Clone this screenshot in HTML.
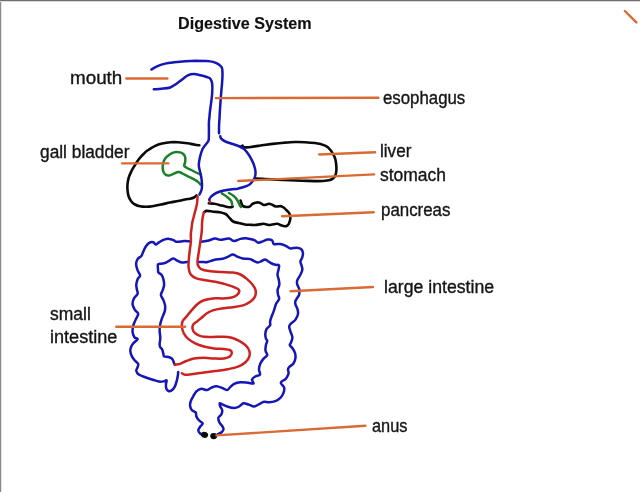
<!DOCTYPE html>
<html><head><meta charset="utf-8"><title>Digestive System</title>
<style>
html,body{margin:0;padding:0;background:#fff;}
body{width:640px;height:492px;position:relative;overflow:hidden;font-family:"Liberation Sans",sans-serif;color:#1a1a1a;}
#bt{position:absolute;left:0;top:0;width:640px;height:1px;background:#707070;}
#bt2{position:absolute;left:0;top:1px;width:640px;height:1px;background:#d8d8d8;}
#bl{position:absolute;left:0;top:0;width:1px;height:492px;background:#8a8a8a;}
#bl2{position:absolute;left:1px;top:0;width:1px;height:492px;background:#e4e4e4;}
svg{position:absolute;left:0;top:0;filter:blur(0.35px);}
.t{position:absolute;white-space:nowrap;font-size:17.5px;line-height:20px;transform-origin:0 0;color:#151515;-webkit-text-stroke:0.35px #151515;}
.b{font-weight:bold;font-size:16.5px;-webkit-text-stroke:0.15px #111;color:#111;}
</style></head><body>
<svg width="640" height="492" viewBox="0 0 640 492" fill="none" stroke-linecap="round" stroke-linejoin="round">
<path d="M178.2 372.1C178.1 372.6 178.1 373.9 177.9 375.3C177.7 376.7 177.4 378.4 176.9 380.3C176.4 382.2 175.7 384.9 174.8 386.6C173.9 388.3 172.7 389.7 171.6 390.4C170.5 391.1 169.4 391.3 168.5 391.0C167.6 390.7 166.7 389.6 166.3 388.5C165.9 387.4 165.9 385.5 166.0 384.1C166.1 382.7 166.9 380.8 166.6 380.3C166.3 379.8 165.4 381.1 164.1 381.3C162.8 381.5 160.9 381.9 159.0 381.6C157.1 381.3 155.0 380.4 152.7 379.7C150.4 379.0 147.5 378.0 145.2 377.2C142.9 376.4 140.4 375.7 138.9 374.6C137.4 373.6 136.5 372.1 136.3 370.9C136.1 369.6 137.3 368.3 137.6 367.1C137.9 365.9 138.6 364.9 138.2 363.9C137.8 362.8 136.1 362.1 135.1 360.8C134.1 359.6 132.7 358.1 131.9 356.4C131.1 354.7 130.4 352.4 130.3 350.7C130.2 349.0 130.9 347.3 131.5 346.0C132.1 344.7 132.8 344.0 133.8 342.9C134.8 341.8 137.5 340.1 137.6 339.1C137.7 338.2 135.2 338.4 134.4 337.2C133.6 336.0 132.8 334.1 132.6 332.2C132.4 330.3 132.7 328.0 133.2 325.9C133.7 323.8 134.9 321.6 135.7 319.6C136.5 317.6 138.3 315.5 138.2 313.9C138.1 312.3 136.0 311.8 135.1 310.2C134.2 308.6 132.8 306.4 132.6 304.5C132.4 302.6 133.0 300.6 133.8 298.8C134.6 297.0 137.1 295.3 137.6 293.8C138.1 292.3 137.2 291.5 137.0 290.0C136.8 288.5 136.2 286.7 136.3 284.9C136.4 283.1 137.0 280.8 137.6 279.2C138.2 277.6 140.1 277.0 140.1 275.5C140.1 274.0 138.3 272.3 137.6 270.4C136.9 268.5 136.1 266.0 136.1 264.1C136.1 262.2 136.7 260.5 137.6 259.1C138.5 257.7 140.4 257.2 141.4 255.9C142.4 254.6 142.6 253.1 143.3 251.5C144.0 249.9 144.8 248.0 145.8 246.5C146.9 245.0 148.3 243.4 149.6 242.7C150.8 242.0 152.2 242.0 153.3 242.3C154.4 242.6 155.0 244.6 155.9 244.6C156.8 244.6 157.6 243.1 159.0 242.3C160.4 241.5 162.4 240.2 164.1 239.6C165.8 239.0 167.5 238.8 169.1 238.9C170.7 239.0 172.2 239.7 173.5 240.2C174.8 240.7 174.9 241.7 176.7 241.8C178.5 242.0 181.9 241.2 184.2 241.1C186.5 241.0 188.5 241.3 190.5 241.4C192.5 241.5 194.2 241.7 196.0 241.8C197.8 241.9 199.4 242.0 201.3 241.8C203.2 241.6 205.3 241.3 207.6 240.8C209.9 240.3 213.0 238.8 215.1 238.6C217.2 238.4 217.9 239.8 220.2 239.8C222.5 239.8 226.7 238.4 229.0 238.6C231.3 238.8 232.1 241.0 234.0 241.1C235.9 241.2 238.4 239.4 240.3 238.9C242.2 238.4 243.8 238.3 245.4 238.3C247.0 238.3 248.5 238.6 250.0 238.9C251.5 239.2 253.0 239.6 254.4 240.2C255.8 240.8 256.8 242.5 258.2 242.7C259.6 242.9 261.0 241.9 262.6 241.4C264.2 240.9 266.0 239.8 267.6 239.6C269.2 239.4 270.9 239.5 272.0 240.2C273.1 240.9 272.5 243.4 273.9 244.0C275.3 244.6 278.3 243.7 280.2 244.0C282.1 244.3 283.6 244.9 285.3 245.6C287.0 246.3 288.4 248.1 290.3 248.4C292.2 248.8 294.8 247.6 296.6 247.7C298.4 247.8 299.9 248.2 301.0 249.0C302.1 249.8 302.7 251.4 302.9 252.8C303.1 254.2 302.7 255.7 302.3 257.2C301.9 258.7 300.5 260.1 300.4 261.6C300.3 263.1 301.4 264.6 301.7 266.0C302.0 267.4 302.5 268.3 302.3 269.8C302.1 271.3 301.2 273.0 300.4 274.8C299.5 276.6 297.7 278.9 297.2 280.5C296.7 282.1 296.9 282.9 297.2 284.3C297.5 285.7 298.8 287.5 299.1 288.7C299.5 289.9 299.3 290.4 299.3 291.5C299.3 292.6 299.6 293.5 299.0 295.0C298.4 296.5 296.1 299.1 295.5 300.7C294.9 302.3 295.2 303.1 295.5 304.5C295.8 305.9 297.0 307.3 297.4 308.9C297.8 310.5 298.3 312.1 298.0 313.9C297.7 315.7 296.6 318.0 295.5 319.6C294.4 321.2 292.2 322.2 291.1 323.4C290.1 324.5 289.3 325.1 289.2 326.5C289.1 327.9 290.0 329.8 290.5 331.6C291.0 333.4 292.3 335.4 292.4 337.2C292.5 339.0 291.5 341.0 291.1 342.3C290.7 343.6 289.6 344.2 289.8 345.2C290.0 346.2 291.5 346.9 292.4 348.1C293.2 349.3 294.4 351.0 294.9 352.6C295.4 354.2 295.7 355.8 295.5 357.6C295.3 359.4 294.7 361.7 293.6 363.3C292.6 364.9 290.1 365.9 289.2 367.0C288.3 368.1 288.1 368.6 288.0 369.6C287.9 370.7 288.9 371.8 288.6 373.3C288.3 374.8 287.2 377.0 286.1 378.4C285.0 379.8 282.6 380.7 281.7 381.5C280.8 382.3 280.6 382.3 281.0 383.4C281.4 384.4 283.8 386.2 284.2 387.8C284.6 389.4 284.1 391.2 283.5 392.9C282.9 394.6 281.8 396.5 280.4 397.9C279.0 399.3 277.3 400.4 275.4 401.1C273.5 401.8 271.0 402.2 269.1 402.3C267.2 402.4 265.5 401.5 264.0 401.7C262.5 401.9 261.8 402.8 260.2 403.6C258.6 404.4 256.2 406.3 254.3 406.5C252.4 406.7 250.5 405.1 248.7 404.6C246.9 404.1 245.2 403.0 243.6 403.3C242.0 403.6 240.8 405.7 239.2 406.5C237.6 407.3 236.1 408.0 234.2 408.0C232.3 408.0 229.8 407.3 227.9 406.7C226.0 406.1 224.2 405.2 222.8 404.6C221.4 404.0 220.1 403.0 219.7 403.3C219.3 403.6 219.9 405.4 220.3 406.5C220.7 407.6 222.0 408.8 222.2 410.2C222.4 411.6 221.9 413.3 221.3 414.6C220.7 415.9 218.7 416.5 218.4 417.8C218.1 419.1 218.7 420.8 219.3 422.2C219.9 423.6 221.5 424.9 222.2 426.0C222.9 427.1 223.6 428.1 223.5 429.1C223.4 430.2 222.5 431.5 221.6 432.3C220.7 433.1 218.4 433.9 217.8 434.2" stroke="#1515b8" stroke-width="2.5"/>
<path d="M174.8 364.6C174.7 364.3 174.3 363.6 173.9 362.7C173.5 361.8 173.1 359.8 172.2 358.9C171.3 357.9 169.8 357.4 168.5 357.0C167.2 356.6 164.9 356.9 164.1 356.4C163.2 355.9 163.7 355.1 163.4 353.9C163.1 352.7 162.7 350.5 162.2 349.4C161.7 348.3 160.7 348.2 160.3 347.3C159.9 346.4 159.6 345.8 159.6 344.2C159.6 342.6 160.3 340.2 160.3 337.9C160.3 335.6 159.6 332.6 159.6 330.3C159.6 328.0 159.9 326.1 160.3 324.0C160.7 321.9 161.5 319.8 162.2 317.7C162.9 315.6 164.2 313.4 164.7 311.4C165.2 309.4 165.3 307.6 165.1 305.7C164.9 303.8 164.1 301.9 163.4 300.1C162.7 298.3 161.0 296.7 160.9 295.0C160.8 293.3 162.3 291.7 162.8 290.0C163.3 288.3 164.0 286.7 164.1 284.9C164.2 283.1 163.8 280.9 163.4 279.2C163.0 277.5 162.3 275.9 161.5 274.8C160.7 273.7 159.0 273.4 158.4 272.3C157.8 271.2 158.1 269.8 158.0 268.5C157.9 267.2 157.5 265.3 158.0 264.5C158.5 263.7 159.7 264.0 160.9 263.7C162.1 263.4 163.8 263.5 165.3 262.9C166.8 262.3 168.3 261.0 169.7 260.3C171.1 259.6 172.2 258.4 173.5 258.5C174.8 258.6 175.9 260.0 177.3 260.7C178.7 261.4 180.0 262.3 181.7 262.5C183.4 262.7 185.5 262.0 187.4 261.9C189.3 261.8 191.1 261.8 193.0 261.8C194.9 261.8 196.9 261.8 198.7 261.9C200.5 261.9 202.3 262.1 203.8 262.1C205.2 262.1 205.9 262.4 207.6 262.0C209.3 261.6 211.4 260.6 213.9 260.0C216.4 259.4 220.3 259.3 222.7 258.7C225.1 258.1 226.6 257.3 228.3 256.6C230.0 255.9 231.3 254.4 232.8 254.4C234.3 254.4 235.5 255.9 237.2 256.6C238.9 257.3 240.6 258.1 242.8 258.5C245.0 258.9 248.5 258.7 250.4 259.1C252.3 259.6 252.9 260.6 254.2 261.2C255.5 261.8 256.8 262.5 258.0 262.5C259.2 262.5 260.6 261.5 261.7 261.0C262.8 260.5 263.8 259.5 264.9 259.5C265.9 259.5 266.9 260.5 268.0 261.2C269.1 261.9 270.5 262.9 271.8 263.5C273.1 264.1 274.4 264.5 275.6 264.8C276.8 265.1 278.5 264.5 279.0 265.3C279.5 266.1 278.8 268.2 278.5 269.8C278.2 271.4 277.4 273.1 277.5 274.8C277.6 276.5 278.6 278.5 278.9 280.2C279.2 281.9 279.5 283.3 279.3 284.9C279.1 286.5 277.8 288.3 277.6 290.0C277.4 291.7 277.9 293.5 278.1 295.0C278.4 296.5 279.5 297.6 279.1 299.1C278.8 300.6 276.8 302.0 276.0 303.9C275.2 305.8 274.8 308.1 274.1 310.2C273.4 312.3 272.3 314.6 271.6 316.5C270.9 318.4 270.4 320.0 270.1 321.5C269.9 323.0 270.7 324.0 270.1 325.3C269.5 326.6 267.3 327.6 266.5 329.1C265.7 330.6 265.4 332.5 265.3 334.1C265.2 335.7 265.6 337.4 265.9 338.5C266.2 339.6 267.2 339.9 267.2 341.0C267.2 342.1 266.2 343.6 265.9 345.2C265.6 346.8 265.3 349.0 265.5 350.7C265.7 352.4 267.6 353.7 267.2 355.1C266.8 356.5 264.6 357.4 263.4 358.9C262.2 360.4 260.9 362.1 260.2 363.9C259.5 365.7 259.0 367.8 259.0 369.6C259.0 371.4 260.6 373.5 260.0 374.6C259.4 375.8 256.5 375.7 255.2 376.5C253.9 377.3 252.3 378.4 252.0 379.6C251.7 380.8 254.2 383.0 253.5 383.5C252.8 384.0 250.2 383.0 248.0 382.8C245.8 382.6 242.8 382.1 240.5 382.3C238.2 382.5 235.9 383.0 234.2 383.8C232.5 384.6 231.6 385.8 230.4 386.9C229.2 387.9 228.5 389.9 227.2 390.1C225.9 390.3 224.6 388.8 222.8 388.2C221.0 387.6 218.4 386.4 216.5 386.3C214.6 386.2 213.1 387.0 211.5 387.6C209.9 388.2 208.8 389.9 207.1 390.1C205.4 390.3 203.2 388.6 201.4 388.8C199.6 389.0 197.8 390.0 196.4 391.3C195.0 392.6 194.1 394.7 193.2 396.4C192.2 398.1 191.2 399.8 190.7 401.4C190.2 403.0 189.9 404.3 190.1 405.8C190.3 407.3 191.1 409.1 192.0 410.2C192.9 411.3 195.0 411.4 195.7 412.5C196.4 413.6 195.9 415.2 196.4 416.5C196.9 417.8 197.9 419.1 198.9 420.3C199.9 421.5 202.5 422.4 202.7 423.5C202.9 424.6 200.9 425.5 200.2 426.6C199.5 427.8 198.3 429.2 198.3 430.4C198.3 431.5 199.4 432.7 200.2 433.5C201.0 434.3 202.8 435.1 203.3 435.4" stroke="#1515b8" stroke-width="2.5"/>
<path d="M199.4 145.3C198.7 145.2 197.0 145.0 195.0 144.7C193.0 144.4 190.3 143.7 187.5 143.3C184.7 142.9 180.9 142.5 178.1 142.3C175.3 142.1 173.2 142.1 170.6 142.3C167.9 142.5 164.8 143.0 162.2 143.6C159.5 144.2 156.7 145.2 154.7 146.1C152.7 147.0 151.3 148.1 150.0 148.9C148.7 149.7 148.0 150.0 147.0 150.8C146.0 151.6 145.1 152.4 143.8 153.8C142.4 155.1 140.5 157.1 139.0 159.0C137.5 160.9 136.2 163.0 135.0 165.0C133.8 167.0 132.5 168.9 131.5 171.0C130.5 173.1 129.4 175.3 128.8 177.5C128.1 179.7 127.7 181.9 127.5 184.0C127.3 186.1 127.3 188.0 127.5 190.0C127.7 192.0 127.9 194.1 128.5 196.0C129.1 197.9 130.2 199.8 131.2 201.2C132.3 202.7 133.5 203.7 135.0 204.5C136.5 205.3 138.2 205.9 140.0 206.2C141.8 206.6 143.9 206.7 146.0 206.7C148.1 206.7 150.0 206.6 152.5 206.2C155.0 205.9 158.1 205.1 161.0 204.5C163.9 203.9 167.2 203.1 170.0 202.5C172.8 201.9 175.5 201.5 178.0 201.0C180.5 200.5 183.0 199.9 185.0 199.5C187.0 199.1 188.5 199.0 190.0 198.7C191.5 198.4 192.9 198.1 194.0 197.5C195.1 196.9 196.1 195.7 196.5 195.3" stroke="#0a0a0a" stroke-width="2.6"/>
<path d="M242.6 145.6C242.3 145.8 240.4 146.7 240.6 147.0C240.8 147.3 242.6 147.4 244.0 147.4C245.4 147.4 246.9 147.4 249.2 147.2C251.5 146.9 255.5 146.3 258.0 145.9C260.5 145.5 261.6 145.3 264.0 145.0C266.4 144.7 269.2 144.3 272.5 143.9C275.8 143.5 280.2 143.0 284.0 142.7C287.8 142.4 291.5 142.1 295.0 142.0C298.5 141.9 301.7 142.0 305.0 142.2C308.3 142.4 312.3 142.7 315.0 143.0C317.7 143.3 319.1 143.7 321.0 144.2C322.9 144.7 324.8 145.4 326.2 146.2C327.8 147.1 328.9 148.2 330.0 149.5C331.1 150.8 332.1 152.2 333.0 153.8C333.9 155.3 334.8 157.1 335.3 159.0C335.8 160.9 336.1 163.2 336.2 165.0C336.4 166.8 336.5 168.3 336.4 170.0C336.3 171.7 336.0 173.7 335.5 175.0C335.0 176.3 334.4 177.2 333.5 178.0C332.6 178.8 331.8 179.5 330.0 180.0C328.2 180.5 325.5 180.8 323.0 181.0C320.5 181.2 318.5 181.2 315.0 181.1C311.5 181.0 306.2 180.8 302.0 180.7C297.8 180.5 294.2 180.4 290.0 180.2C285.8 180.0 281.2 179.8 277.0 179.6C272.8 179.4 268.7 179.2 265.0 179.0C261.3 178.8 256.7 178.6 255.0 178.5" stroke="#0a0a0a" stroke-width="2.6"/>
<path d="M208.8 203.3C209.7 203.4 212.2 203.4 214.4 203.8C216.6 204.1 219.7 205.1 221.9 205.6C224.1 206.1 225.9 206.7 227.5 207.0C229.1 207.3 230.4 207.3 231.2 207.2C232.1 207.1 232.5 206.6 232.7 206.5" stroke="#0a0a0a" stroke-width="2.6"/>
<path d="M240.6 200.5C240.8 201.0 241.2 202.7 241.5 203.5C241.8 204.3 241.7 205.0 242.5 205.6C243.3 206.2 245.0 206.9 246.2 207.0C247.5 207.1 249.0 206.8 250.0 206.3C251.0 205.8 251.6 204.5 252.5 203.9C253.4 203.3 254.5 202.9 255.5 202.7C256.5 202.5 257.8 202.3 258.8 202.5C259.8 202.7 260.7 203.3 261.5 203.7C262.3 204.1 262.9 204.8 263.8 205.0C264.6 205.2 265.5 204.8 266.3 204.6C267.1 204.4 267.8 203.8 268.8 203.8C269.7 203.8 271.0 204.2 272.0 204.6C273.0 205.0 274.0 205.9 275.0 206.2C276.0 206.6 277.0 206.4 278.0 206.4C279.0 206.4 280.2 206.0 281.2 206.2C282.2 206.5 283.2 207.2 284.0 207.8C284.8 208.4 285.5 209.2 286.2 210.0C287.0 210.8 287.9 211.5 288.5 212.3C289.1 213.1 289.7 213.8 290.0 215.0C290.3 216.2 290.4 218.0 290.2 219.5C290.0 221.0 289.2 222.7 288.8 223.8C288.2 224.8 287.8 225.2 287.2 225.6C286.6 226.0 286.0 226.3 285.0 226.2C284.0 226.2 282.2 225.6 281.0 225.2C279.8 224.8 278.7 223.9 277.5 223.8C276.3 223.6 275.1 224.1 273.8 224.3C272.6 224.5 271.2 225.0 270.0 225.0C268.8 225.0 267.8 224.7 266.8 224.5C265.8 224.3 265.0 223.8 263.8 223.8C262.5 223.7 261.0 224.2 259.5 224.4C258.0 224.6 256.6 224.9 255.0 225.0C253.4 225.1 251.7 224.9 250.0 224.8C248.3 224.7 246.9 224.8 245.0 224.5C243.1 224.2 240.7 223.5 238.8 223.0C236.8 222.5 234.7 222.4 233.1 221.5C231.5 220.6 230.7 219.1 229.4 217.8C228.2 216.6 227.2 214.9 225.6 214.0C224.0 213.1 222.0 212.6 220.0 212.2C218.0 211.8 215.6 211.9 213.4 211.7C211.2 211.5 208.5 210.8 206.9 210.9C205.3 211.0 204.5 212.0 204.0 212.2" stroke="#0a0a0a" stroke-width="2.6"/>
<path d="M199.7 174.2C198.4 173.6 194.4 171.6 192.2 170.5C190.0 169.4 187.9 168.5 186.6 167.7C185.3 166.9 184.4 166.8 184.2 165.8C184.0 164.8 185.0 163.0 185.2 161.6C185.4 160.2 185.5 158.6 185.2 157.3C184.9 156.0 184.2 154.8 183.3 154.0C182.4 153.2 181.2 152.7 180.0 152.4C178.8 152.1 177.6 151.9 176.2 152.0C174.9 152.1 173.3 152.5 172.0 153.1C170.7 153.7 169.5 154.6 168.3 155.5C167.1 156.4 165.9 157.4 165.0 158.8C164.1 160.1 163.5 161.8 163.1 163.4C162.7 165.0 162.6 166.6 162.7 168.1C162.8 169.6 163.1 171.2 163.6 172.3C164.1 173.4 165.0 174.4 165.9 174.9C166.8 175.4 167.9 175.6 169.2 175.4C170.4 175.2 172.1 174.4 173.4 173.9C174.7 173.4 176.1 172.6 177.2 172.3C178.3 172.0 178.8 171.9 180.0 172.3C181.2 172.7 183.1 173.9 184.7 174.7C186.3 175.5 187.8 176.2 189.4 177.0C191.0 177.8 192.7 178.6 194.1 179.4C195.5 180.2 196.7 180.8 197.8 181.7C198.9 182.5 200.1 184.0 200.6 184.5" stroke="#1b8029" stroke-width="2.5"/>
<path d="M221.9 193.4C222.8 194.0 225.9 195.9 227.5 197.2C229.1 198.5 230.5 199.7 231.2 201.0C232.0 202.3 232.0 204.3 232.2 205.0" stroke="#1b8029" stroke-width="2.5"/>
<path d="M228.9 193.0C229.8 193.5 232.5 194.9 234.0 196.2C235.5 197.6 236.9 199.5 237.8 201.0C238.8 202.5 239.1 204.2 239.7 205.2C240.2 206.2 240.9 206.7 241.1 207.0" stroke="#1b8029" stroke-width="2.5"/>
<path d="M191.6 228.0 L190.8 234.4 L190.9 241.5 L189.6 252.0 L188.8 260.0 L188.6 267.6 L197.9 265.0 L197.6 260.0 L198.8 252.0 L200.3 242.0 L201.4 234.4 L201.9 228.5Z" fill="#fff" stroke="none"/>
<path d="M197.5 196.2C197.4 197.5 197.5 201.0 197.0 203.8C196.5 206.5 195.5 209.9 194.7 213.0C193.9 216.1 192.8 220.0 192.3 222.5C191.8 225.0 191.8 226.0 191.6 228.0C191.3 230.0 190.9 232.2 190.8 234.4C190.7 236.7 191.1 238.6 190.9 241.5C190.7 244.4 189.9 248.9 189.6 252.0C189.2 255.1 189.0 257.4 188.8 260.0C188.6 262.6 188.3 265.2 188.6 267.6C188.9 270.0 189.4 272.7 190.7 274.5C192.0 276.3 194.0 277.4 196.4 278.3C198.8 279.2 202.0 279.6 205.2 280.2C208.3 280.8 212.2 281.1 215.3 281.7C218.5 282.3 221.2 283.1 224.1 283.9C227.0 284.7 230.6 285.8 232.9 286.7C235.2 287.6 236.9 288.2 238.0 289.0C239.1 289.8 239.5 290.4 239.3 291.5C239.1 292.6 238.0 294.3 236.7 295.3C235.4 296.3 234.0 297.0 231.7 297.5C229.4 298.0 226.0 298.2 222.8 298.4C219.7 298.5 216.0 298.1 212.8 298.4C209.7 298.7 206.4 299.4 203.9 300.3C201.4 301.2 199.6 302.5 197.6 304.1C195.6 305.7 193.8 307.8 192.0 309.8C190.2 311.8 188.5 314.2 186.9 316.1C185.3 318.0 183.4 319.5 182.6 321.3C181.8 323.1 181.7 325.0 181.9 327.0C182.1 329.0 182.8 331.3 183.8 333.3C184.9 335.3 186.3 337.2 188.2 338.9C190.1 340.6 192.6 342.0 195.2 343.3C197.8 344.6 200.8 345.6 204.0 346.5C207.2 347.4 210.8 348.0 214.1 348.4C217.4 348.8 221.5 348.7 224.1 349.0C226.7 349.3 228.5 349.4 229.8 350.0C231.1 350.6 231.8 351.7 231.8 352.8C231.8 353.9 231.1 355.7 229.8 356.6C228.5 357.6 226.7 358.2 224.1 358.5C221.5 358.8 217.4 358.6 214.1 358.5C210.8 358.4 207.4 357.8 204.0 357.8C200.6 357.8 196.8 358.0 193.9 358.5C191.0 359.0 188.6 360.1 186.3 361.0C184.0 361.9 181.9 363.3 180.0 363.9C178.1 364.5 175.7 364.6 174.8 364.8" stroke="#cc2220" stroke-width="2.5"/>
<path d="M204.0 212.2C203.8 213.1 202.9 215.8 202.6 217.8C202.3 219.8 202.1 222.6 202.0 224.4C201.9 226.2 202.0 226.8 201.9 228.5C201.8 230.2 201.7 232.2 201.4 234.4C201.1 236.7 200.7 239.1 200.3 242.0C199.9 244.9 199.2 249.0 198.8 252.0C198.4 255.0 197.8 257.8 197.6 260.0C197.4 262.2 197.4 263.5 197.9 265.0C198.4 266.5 199.0 267.8 200.8 268.8C202.7 269.8 205.5 270.6 209.0 271.1C212.5 271.6 217.6 271.8 221.6 272.0C225.6 272.2 229.8 272.2 232.9 272.6C236.1 273.0 238.2 273.4 240.5 274.5C242.8 275.6 244.8 277.2 246.8 278.9C248.8 280.6 250.9 282.7 252.4 284.6C253.9 286.5 255.2 288.2 255.6 290.2C256.0 292.2 255.8 294.6 255.0 296.5C254.2 298.4 252.6 300.1 250.6 301.6C248.6 303.1 245.9 304.5 243.0 305.4C240.1 306.3 236.5 306.7 232.9 307.2C229.3 307.7 224.9 308.0 221.6 308.5C218.2 309.0 215.3 309.6 212.8 310.4C210.3 311.2 208.4 312.2 206.5 313.5C204.6 314.8 202.9 316.8 201.4 318.0C199.9 319.2 199.0 319.8 197.7 320.9C196.3 322.0 194.2 323.1 193.3 324.4C192.5 325.7 192.3 327.4 192.6 328.9C192.9 330.4 193.7 332.1 195.2 333.3C196.7 334.6 198.8 335.8 201.5 336.4C204.2 337.0 207.9 336.9 211.5 337.0C215.1 337.1 219.5 336.6 222.9 336.7C226.3 336.8 229.0 337.0 231.7 337.7C234.4 338.4 236.9 339.6 239.2 340.8C241.5 342.1 243.8 343.5 245.5 345.2C247.2 346.9 248.7 349.0 249.3 350.9C249.9 352.8 249.9 354.7 249.3 356.6C248.7 358.5 247.4 360.5 245.5 362.2C243.6 363.9 240.9 365.5 238.0 366.7C235.1 367.9 231.7 368.5 227.9 369.2C224.1 369.9 219.5 370.5 215.3 371.1C211.1 371.7 206.7 372.2 202.7 372.7C198.7 373.2 194.3 373.8 191.4 374.2C188.5 374.6 186.7 375.0 185.1 374.8C183.5 374.6 182.4 373.5 181.9 373.2" stroke="#cc2220" stroke-width="2.5"/>
<path d="M209.4 200.0C209.5 200.4 209.9 201.9 210.0 202.3" stroke="#cc2220" stroke-width="2.5"/>
<path d="M151.3 69.5C152.4 68.9 155.3 67.1 157.6 66.1C159.9 65.1 162.5 64.2 165.2 63.6C167.9 63.0 170.7 62.7 174.0 62.3C177.3 61.9 181.7 61.6 185.3 61.3C188.9 61.0 192.0 60.8 195.4 60.7C198.8 60.7 202.6 60.8 205.5 61.0C208.4 61.2 210.8 61.3 213.0 61.9C215.2 62.5 217.2 63.5 218.7 64.4C220.2 65.4 221.3 66.0 221.9 67.6C222.5 69.2 222.5 71.4 222.5 73.9C222.5 76.4 222.3 79.6 222.1 82.7C221.9 85.8 221.4 89.8 221.2 92.8C220.9 95.8 220.8 97.7 220.6 100.4C220.4 103.1 220.2 106.5 220.0 109.2C219.8 111.9 219.7 114.5 219.6 116.7C219.5 118.9 219.3 120.7 219.2 122.6C219.1 124.5 219.0 126.2 219.0 128.0C219.0 129.8 219.0 132.4 219.0 133.3" stroke="#1515b8" stroke-width="2.5"/>
<path d="M220.3 136.3C220.4 136.7 220.2 137.5 221.0 138.4C221.8 139.3 223.3 140.6 225.3 141.5C227.3 142.4 230.4 143.2 232.8 144.0C235.2 144.8 237.9 145.7 239.8 146.5C241.7 147.3 242.8 147.9 244.2 149.1C245.5 150.3 246.7 151.7 247.9 153.5C249.2 155.3 250.6 157.7 251.7 159.8C252.8 161.9 253.7 164.1 254.3 166.1C254.9 168.1 255.4 169.8 255.5 171.7C255.6 173.6 255.4 175.8 254.8 177.5C254.2 179.2 253.0 180.8 252.0 182.0C251.0 183.2 250.2 184.1 248.8 185.0C247.2 185.9 244.9 186.7 243.0 187.3C241.1 187.9 239.3 188.4 237.5 188.8C235.7 189.1 234.6 189.0 232.2 189.3C229.8 189.6 225.5 190.2 222.8 190.8C220.1 191.4 218.1 192.1 216.2 193.0C214.4 193.9 212.7 195.2 211.5 196.2C210.3 197.3 209.6 199.0 209.2 199.5" stroke="#1515b8" stroke-width="2.5"/>
<path d="M153.8 89.3C155.1 89.2 158.7 89.1 161.4 88.8C164.1 88.5 167.7 88.3 170.2 87.5C172.7 86.7 174.4 85.1 176.5 83.7C178.6 82.3 180.9 80.3 182.8 78.9C184.7 77.5 186.0 76.2 187.8 75.4C189.6 74.6 191.4 74.1 193.5 74.1C195.6 74.1 198.2 74.7 200.4 75.2C202.6 75.7 205.0 76.4 206.7 77.0C208.4 77.6 209.6 77.7 210.5 78.9C211.4 80.1 211.9 81.7 212.2 84.0C212.5 86.3 212.4 89.6 212.2 92.8C212.0 96.0 211.5 99.8 211.1 102.9C210.7 106.1 210.2 109.4 209.9 111.7C209.6 114.0 209.7 114.9 209.5 116.7C209.3 118.5 209.0 119.9 208.9 122.6C208.8 125.3 209.0 129.8 208.9 132.7C208.8 135.6 209.1 138.2 208.6 140.2C208.1 142.2 206.7 143.1 205.7 144.6C204.7 146.1 203.5 147.1 202.6 149.1C201.7 151.1 200.7 154.1 200.1 156.6C199.5 159.1 199.0 162.3 198.8 164.2C198.7 166.1 198.9 166.5 199.2 168.1C199.5 169.7 200.2 171.9 200.6 173.8C201.0 175.6 201.4 177.5 201.6 179.4C201.8 181.3 202.0 183.2 202.0 185.0C202.0 186.8 201.9 188.4 201.5 190.0C201.1 191.6 199.8 193.8 199.5 194.5" stroke="#1515b8" stroke-width="2.5"/>
<ellipse cx="204.6" cy="434.9" rx="3.6" ry="2.9" fill="#0a0a0a" stroke="none" transform="rotate(15 204.6 434.9)"/>
<ellipse cx="213.7" cy="436.1" rx="3.5" ry="3.1" fill="#0a0a0a" stroke="none"/>
<path d="M126.4 78.5 L167.4 78.5" stroke="#da6a33" stroke-width="2.4"/>
<path d="M215.9 98.1 L378.4 97.8" stroke="#da6a33" stroke-width="2.4"/>
<path d="M122.2 163.4 L168.3 163.4" stroke="#da6a33" stroke-width="2.4"/>
<path d="M319.2 154.5 L375.1 152.3" stroke="#da6a33" stroke-width="2.4"/>
<path d="M238.2 181.0 L374.1 174.4" stroke="#da6a33" stroke-width="2.4"/>
<path d="M282.2 216.3 L373.7 212.2" stroke="#da6a33" stroke-width="2.4"/>
<path d="M290.6 291.2 L372.9 287.0" stroke="#da6a33" stroke-width="2.4"/>
<path d="M116.2 326.7 L185.1 326.7" stroke="#da6a33" stroke-width="2.4"/>
<path d="M216.4 435.4 L365.4 425.7" stroke="#da6a33" stroke-width="2.4"/>
<path d="M624.9 11.0 L636.3 22.4" stroke="#da6a33" stroke-width="2.4"/>
</svg>
<div class="t b" id="title" style="left:178.00px;top:13.18px;transform:scaleX(0.9778)">Digestive System</div>
<div class="t" id="mouth" style="left:70.40px;top:68.26px;transform:scaleX(1.0750)">mouth</div>
<div class="t" id="gall" style="left:40.10px;top:141.96px;transform:scaleX(0.9891)">gall bladder</div>
<div class="t" id="small" style="left:49.60px;top:304.21px;transform:scaleX(0.9985)">small</div>
<div class="t" id="intestine" style="left:49.60px;top:326.71px;transform:scaleX(1.0341)">intestine</div>
<div class="t" id="esoph" style="left:382.60px;top:87.76px;transform:scaleX(0.9609)">esophagus</div>
<div class="t" id="liver" style="left:379.50px;top:140.66px;transform:scaleX(0.9797)">liver</div>
<div class="t" id="stomach" style="left:380.00px;top:165.06px;transform:scaleX(0.9987)">stomach</div>
<div class="t" id="pancreas" style="left:381.40px;top:199.71px;transform:scaleX(0.9645)">pancreas</div>
<div class="t" id="largeint" style="left:383.80px;top:277.46px;transform:scaleX(1.0108)">large intestine</div>
<div class="t" id="anus" style="left:371.60px;top:415.71px;transform:scaleX(0.9340)">anus</div>

<div id="bl"></div><div id="bl2"></div><div id="bt"></div><div id="bt2"></div>
</body></html>
